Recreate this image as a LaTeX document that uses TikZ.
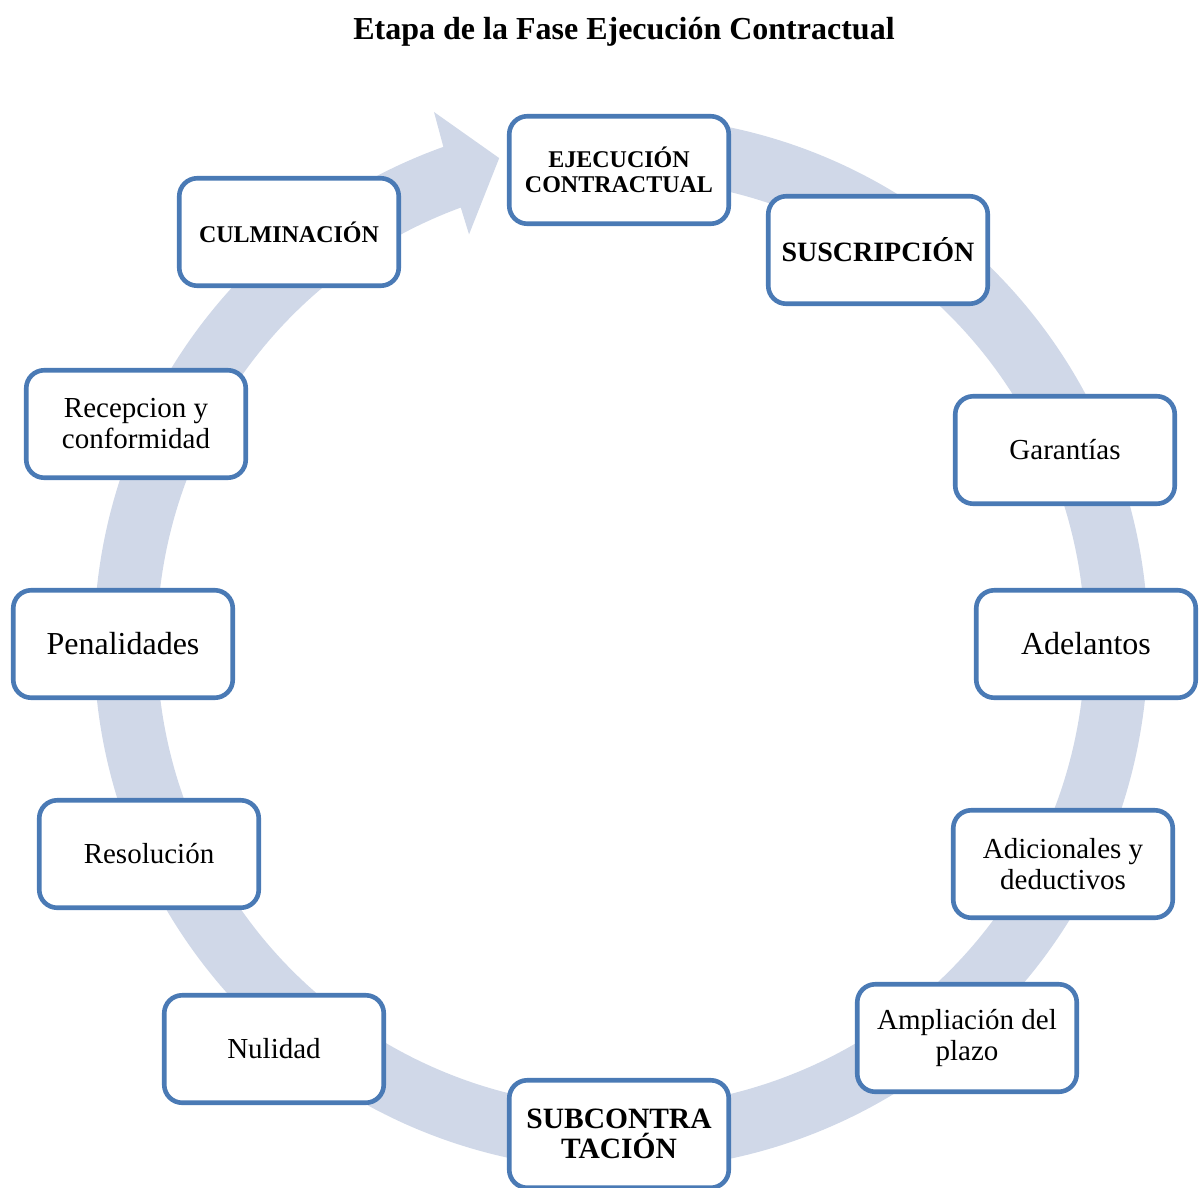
\documentclass[tikz,border=0pt]{standalone}
\usepackage{fontspec}
\setmainfont{Liberation Serif}
\definecolor{ringc}{HTML}{D0D8E8}
\definecolor{boxc}{HTML}{4A7AB5}
\begin{document}
\begin{tikzpicture}[x=1pt,y=1pt,
 box/.style={draw=boxc, line width=4.6pt, fill=white, rounded corners=18pt, minimum width=219.5pt, minimum height=107.5pt, inner sep=0pt, align=center, font=\fontsize{29}{31}\selectfont},
 bigbox/.style={box, font=\fontsize{32}{34}\selectfont},
 bbox/.style={box, font=\bfseries\fontsize{24}{25}\selectfont},
 bboxl/.style={box, font=\bfseries\fontsize{28}{30}\selectfont}]
\useasboundingbox (0,0) rectangle (1200,-1187);
\node[font=\bfseries\fontsize{32}{36}\selectfont, anchor=base] (title) at (624,-39) {Etapa de la Fase Ejecución Contractual};
\fill[ringc, shift={(621,-643)}] (82:527) arc[start angle=82,end angle=-250.3,radius=527] -- (109.4:563) -- (104.1:500) -- (110.4:436) -- (110.2:464) arc[start angle=-249.8,end angle=82,radius=464] -- cycle;
\node[bbox] (ej) at (619,-170) {EJECUCIÓN\\CONTRACTUAL};
\node[bboxl] (sus) at (878,-250) {SUSCRIPCIÓN};
\node[box] (gar) at (1065,-450) {Garantías};
\node[bigbox] (ade) at (1086,-644) {Adelantos};
\node[box] (adi) at (1063,-864) {Adicionales y\\deductivos};
\node[box] (amp) at (967,-1038) {Ampliación del\\plazo};
\node[box, font=\bfseries\fontsize{29.5}{30}\selectfont] (sub) at (619,-1134) {SUBCONTRA\\TACIÓN};
\node[box] (nul) at (274,-1049) {Nulidad};
\node[box] (res) at (149,-854) {Resolución};
\node[bigbox] (pen) at (123,-644) {Penalidades};
\node[box] (rec) at (136,-424) {Recepcion y\\conformidad};
\node[bbox] (cul) at (289,-232) {CULMINACIÓN};
\end{tikzpicture}
\end{document}
